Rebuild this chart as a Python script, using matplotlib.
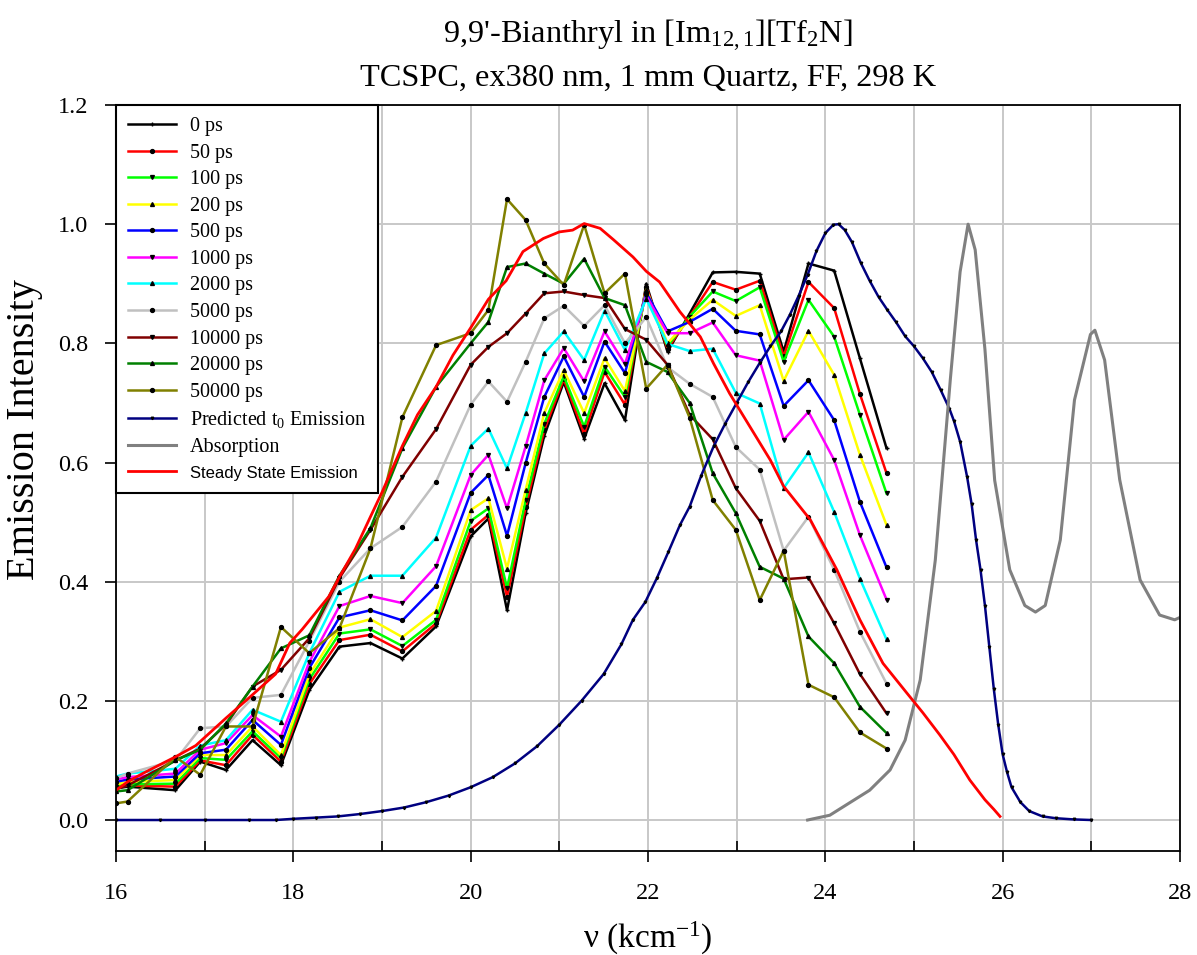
import matplotlib
matplotlib.use("Agg")
import matplotlib.pyplot as plt
from matplotlib.ticker import MultipleLocator

# time-resolved emission, sampled wavenumbers (kcm^-1)
nu = [16.00, 16.13, 16.67, 16.95, 17.24, 17.54, 17.86, 18.18, 18.52, 18.87,
      19.23, 19.61, 20.00, 20.20, 20.41, 20.62, 20.83, 21.05, 21.28, 21.51,
      21.74, 21.98, 22.22, 22.47, 22.73, 22.99, 23.26, 23.53, 23.81, 24.10,
      24.39, 24.69]

em_0ps = [0.053, 0.056, 0.050, 0.098, 0.084, 0.134, 0.092, 0.218, 0.291, 0.297,
          0.271, 0.325, 0.476, 0.506, 0.352, 0.515, 0.645, 0.735, 0.640, 0.733,
          0.671, 0.900, 0.786, 0.850, 0.919, 0.920, 0.917, 0.786, 0.934, 0.922,
          0.775, 0.624]
em_50ps = [0.055, 0.058, 0.056, 0.100, 0.092, 0.143, 0.098, 0.228, 0.302, 0.311,
           0.283, 0.330, 0.487, 0.512, 0.375, 0.525, 0.655, 0.740, 0.648, 0.752,
           0.697, 0.895, 0.791, 0.845, 0.903, 0.890, 0.905, 0.778, 0.903, 0.859,
           0.715, 0.582]
em_100ps = [0.057, 0.060, 0.061, 0.104, 0.101, 0.149, 0.104, 0.236, 0.313, 0.320,
            0.292, 0.336, 0.502, 0.523, 0.389, 0.537, 0.665, 0.745, 0.660, 0.761,
            0.710, 0.890, 0.795, 0.845, 0.887, 0.871, 0.894, 0.769, 0.873, 0.811,
            0.680, 0.548]
em_200ps = [0.060, 0.064, 0.067, 0.109, 0.109, 0.157, 0.109, 0.244, 0.323, 0.337,
            0.307, 0.351, 0.520, 0.540, 0.422, 0.554, 0.683, 0.755, 0.683, 0.775,
            0.720, 0.890, 0.800, 0.840, 0.873, 0.846, 0.864, 0.737, 0.821, 0.747,
            0.613, 0.495]
em_500ps = [0.064, 0.068, 0.073, 0.112, 0.118, 0.168, 0.126, 0.255, 0.340, 0.352,
            0.335, 0.393, 0.549, 0.579, 0.477, 0.599, 0.710, 0.778, 0.710, 0.803,
            0.750, 0.885, 0.820, 0.836, 0.858, 0.821, 0.815, 0.695, 0.738, 0.671,
            0.534, 0.424]
em_1000ps = [0.068, 0.072, 0.078, 0.118, 0.129, 0.176, 0.140, 0.265, 0.359, 0.376,
             0.364, 0.426, 0.579, 0.613, 0.523, 0.627, 0.738, 0.792, 0.736, 0.820,
             0.765, 0.880, 0.817, 0.817, 0.835, 0.780, 0.771, 0.638, 0.685, 0.604,
             0.478, 0.370]
em_2000ps = [0.073, 0.078, 0.086, 0.125, 0.134, 0.185, 0.165, 0.280, 0.383, 0.410,
             0.410, 0.474, 0.628, 0.657, 0.590, 0.683, 0.783, 0.820, 0.772, 0.855,
             0.789, 0.875, 0.799, 0.787, 0.791, 0.717, 0.699, 0.557, 0.617, 0.517,
             0.405, 0.303]
em_5000ps = [0.070, 0.078, 0.100, 0.154, 0.157, 0.205, 0.210, 0.300, 0.400, 0.456,
             0.492, 0.568, 0.697, 0.736, 0.702, 0.769, 0.842, 0.863, 0.829, 0.864,
             0.800, 0.844, 0.760, 0.732, 0.710, 0.626, 0.588, 0.452, 0.509, 0.420,
             0.316, 0.229]
em_10000ps = [0.052, 0.058, 0.100, 0.120, 0.160, 0.224, 0.252, 0.305, 0.406, 0.487,
              0.576, 0.656, 0.764, 0.794, 0.817, 0.850, 0.884, 0.887, 0.881, 0.876,
              0.824, 0.806, 0.764, 0.680, 0.639, 0.557, 0.502, 0.404, 0.407, 0.330,
              0.245, 0.179]
em_20000ps = [0.048, 0.050, 0.100, 0.118, 0.162, 0.224, 0.288, 0.310, 0.410, 0.490,
              0.624, 0.727, 0.800, 0.836, 0.928, 0.934, 0.917, 0.900, 0.942, 0.876,
              0.864, 0.769, 0.752, 0.700, 0.582, 0.515, 0.425, 0.405, 0.308, 0.263,
              0.190, 0.146]
em_50000ps = [0.028, 0.031, 0.106, 0.076, 0.157, 0.157, 0.324, 0.280, 0.322, 0.456,
              0.676, 0.797, 0.817, 0.856, 1.042, 1.007, 0.934, 0.898, 0.999, 0.884,
              0.917, 0.724, 0.764, 0.675, 0.537, 0.487, 0.369, 0.452, 0.227, 0.206,
              0.147, 0.120]

time_labels = ["0 ps", "50 ps", "100 ps", "200 ps", "500 ps", "1000 ps", "2000 ps",
               "5000 ps", "10000 ps", "20000 ps", "50000 ps"]

# predicted t0 emission
pred_nu = [16.0, 16.5, 17.0, 17.5, 17.8, 18.0, 18.25, 18.5, 18.75, 19.0, 19.25,
           19.5, 19.75, 20.0, 20.25, 20.5, 20.75, 21.0, 21.25, 21.5, 21.7, 21.83,
           21.97, 22.1, 22.23, 22.36, 22.47, 22.6, 22.74, 22.87, 23.0, 23.13,
           23.26, 23.38, 23.5, 23.6, 23.7, 23.8, 23.9, 24.0, 24.09, 24.15, 24.22,
           24.3, 24.4, 24.5, 24.6, 24.7, 24.8, 24.9, 25.0, 25.1, 25.2, 25.3, 25.4,
           25.45, 25.52, 25.6, 25.65, 25.7, 25.75, 25.8, 25.85, 25.9, 25.95, 26.0,
           26.05, 26.1, 26.2, 26.3, 26.45, 26.6, 26.8, 27.0]
pred_em = [0.0, 0.0, 0.0, 0.0, 0.0, 0.002, 0.004, 0.006, 0.010, 0.015, 0.021,
           0.030, 0.041, 0.055, 0.072, 0.095, 0.124, 0.160, 0.200, 0.245, 0.295,
           0.336, 0.366, 0.406, 0.450, 0.495, 0.526, 0.578, 0.627, 0.665, 0.700,
           0.735, 0.767, 0.795, 0.820, 0.848, 0.880, 0.915, 0.955, 0.985, 0.999,
           1.000, 0.990, 0.970, 0.935, 0.905, 0.878, 0.856, 0.835, 0.812, 0.795,
           0.775, 0.752, 0.722, 0.690, 0.670, 0.635, 0.575, 0.530, 0.470, 0.420,
           0.360, 0.290, 0.220, 0.160, 0.110, 0.080, 0.055, 0.030, 0.015, 0.006,
           0.003, 0.001, 0.0]

# absorption
abs_nu = [23.8, 24.05, 24.5, 24.73, 24.9, 25.07, 25.24, 25.41, 25.52, 25.61, 25.69,
          25.8, 25.91, 26.08, 26.25, 26.37, 26.48, 26.65, 26.81, 26.99, 27.04,
          27.15, 27.32, 27.55, 27.77, 27.94, 28.0]
abs_val = [0.0, 0.008, 0.050, 0.084, 0.134, 0.235, 0.436, 0.740, 0.920, 1.000,
           0.957, 0.790, 0.570, 0.420, 0.360, 0.349, 0.360, 0.470, 0.705, 0.815,
           0.822, 0.772, 0.571, 0.403, 0.344, 0.336, 0.340]

# steady state emission
ss_nu = [16.0, 16.13, 16.3, 16.67, 16.9, 17.24, 17.5, 17.8, 17.96, 18.1, 18.4,
         18.52, 18.7, 18.87, 19.0, 19.23, 19.4, 19.61, 19.8, 20.0, 20.2, 20.4,
         20.59, 20.82, 21.0, 21.15, 21.28, 21.46, 21.61, 21.83, 21.98, 22.13,
         22.36, 22.59, 22.74, 22.92, 23.15, 23.38, 23.53, 23.83, 24.13, 24.39,
         24.65, 24.92, 25.1, 25.29, 25.45, 25.63, 25.8, 25.9, 25.97]
ss_em = [0.050, 0.064, 0.078, 0.106, 0.125, 0.171, 0.205, 0.245, 0.297, 0.320,
         0.375, 0.408, 0.455, 0.509, 0.550, 0.628, 0.680, 0.727, 0.780, 0.826,
         0.874, 0.905, 0.954, 0.976, 0.987, 0.990, 1.001, 0.993, 0.974, 0.945,
         0.921, 0.903, 0.853, 0.811, 0.766, 0.716, 0.660, 0.604, 0.560, 0.504,
         0.420, 0.336, 0.263, 0.213, 0.180, 0.143, 0.110, 0.067, 0.034, 0.018,
         0.006]

SERIF = "Liberation Serif"
plt.rcParams["font.family"] = SERIF
plt.rcParams["mathtext.fontset"] = "custom"
plt.rcParams["mathtext.rm"] = SERIF
plt.rcParams["mathtext.it"] = SERIF + ":italic"

colors = ["#000000", "#ff0000", "#00ff00", "#ffff00", "#0000ff", "#ff00ff",
          "#00ffff", "#c0c0c0", "#800000", "#008000", "#808000"]
markers = ["+", "o", "v", "^", "o", "v", "^", "o", "v", "^", "o"]
series = [em_0ps, em_50ps, em_100ps, em_200ps, em_500ps, em_1000ps, em_2000ps,
          em_5000ps, em_10000ps, em_20000ps, em_50000ps]

fig = plt.figure(figsize=(11.97, 9.55), dpi=100)
ax = fig.add_axes([116 / 1197, 1 - 851 / 955, 1064 / 1197, 746 / 955])

for y, lab, c, m in zip(series, time_labels, colors, markers):
    ax.plot(nu, y, color=c, lw=1.8, marker=m, ms=2.8, mfc="black", mec="black",
            label=lab)
ax.plot(pred_nu, pred_em, color="#000080", lw=1.8, marker="v", ms=1.8,
        mfc="black", mec="black", label="Predicted t$_0$ Emission")
ax.plot(abs_nu, abs_val, color="#808080", lw=2.2, label="Absorption")
ax.plot(ss_nu, ss_em, color="#ff0000", lw=2.0, label="Steady State Emission")

ax.set_xlim(16, 28)
ax.set_ylim(-0.052, 1.2)
ax.xaxis.set_major_locator(MultipleLocator(2))
ax.xaxis.set_minor_locator(MultipleLocator(1))
ax.set_yticks([0.0, 0.2, 0.4, 0.6, 0.8, 1.0, 1.2])
ax.set_yticklabels(["0.0", "0.2", "0.4", "0.6", "0.8", "1.0", "1.2"])
ax.grid(True, which="both", axis="x", color="#c8c8c8", lw=1.4)
ax.grid(True, which="major", axis="y", color="#c8c8c8", lw=1.4)
ax.set_axisbelow(True)
ax.tick_params(axis="both", which="major", direction="out", length=8, width=1.2,
               labelsize=17.5, pad=12)
ax.tick_params(axis="x", which="minor", direction="in", length=7, width=1.2)
ax.tick_params(axis="x", which="major", pad=15)
for s in ax.spines.values():
    s.set_linewidth(1.3)

leg = ax.legend(loc="upper left", bbox_to_anchor=(0, 1), borderaxespad=0,
                fancybox=False, edgecolor="black", framealpha=1, fontsize=14.5,
                handlelength=2.4, handletextpad=0.65, labelspacing=0.37,
                numpoints=1, borderpad=0.6)
leg.get_frame().set_linewidth(1.5)
leg.get_texts()[-1].set_fontfamily("Liberation Sans")
leg.get_texts()[-1].set_fontsize(12)

fig.text(648 / 1197, 1 - 35 / 955, "9,9'-Bianthryl in [Im$_{12,1}$][Tf$_2$N]",
         ha="center", va="center", fontsize=23.3)
fig.text(648 / 1197, 1 - 78 / 955, "TCSPC, ex380 nm, 1 mm Quartz, FF, 298 K",
         ha="center", va="center", fontsize=23.3)
fig.text(648 / 1197, 1 - 938 / 955, "ν (kcm$^{-1}$)", ha="center", va="center",
         fontsize=24)
fig.text(25 / 1197, 1 - 430 / 955, "Emission Intensity", ha="center", va="center",
         rotation=90, fontsize=29)

fig.savefig("out.png", dpi=100)
